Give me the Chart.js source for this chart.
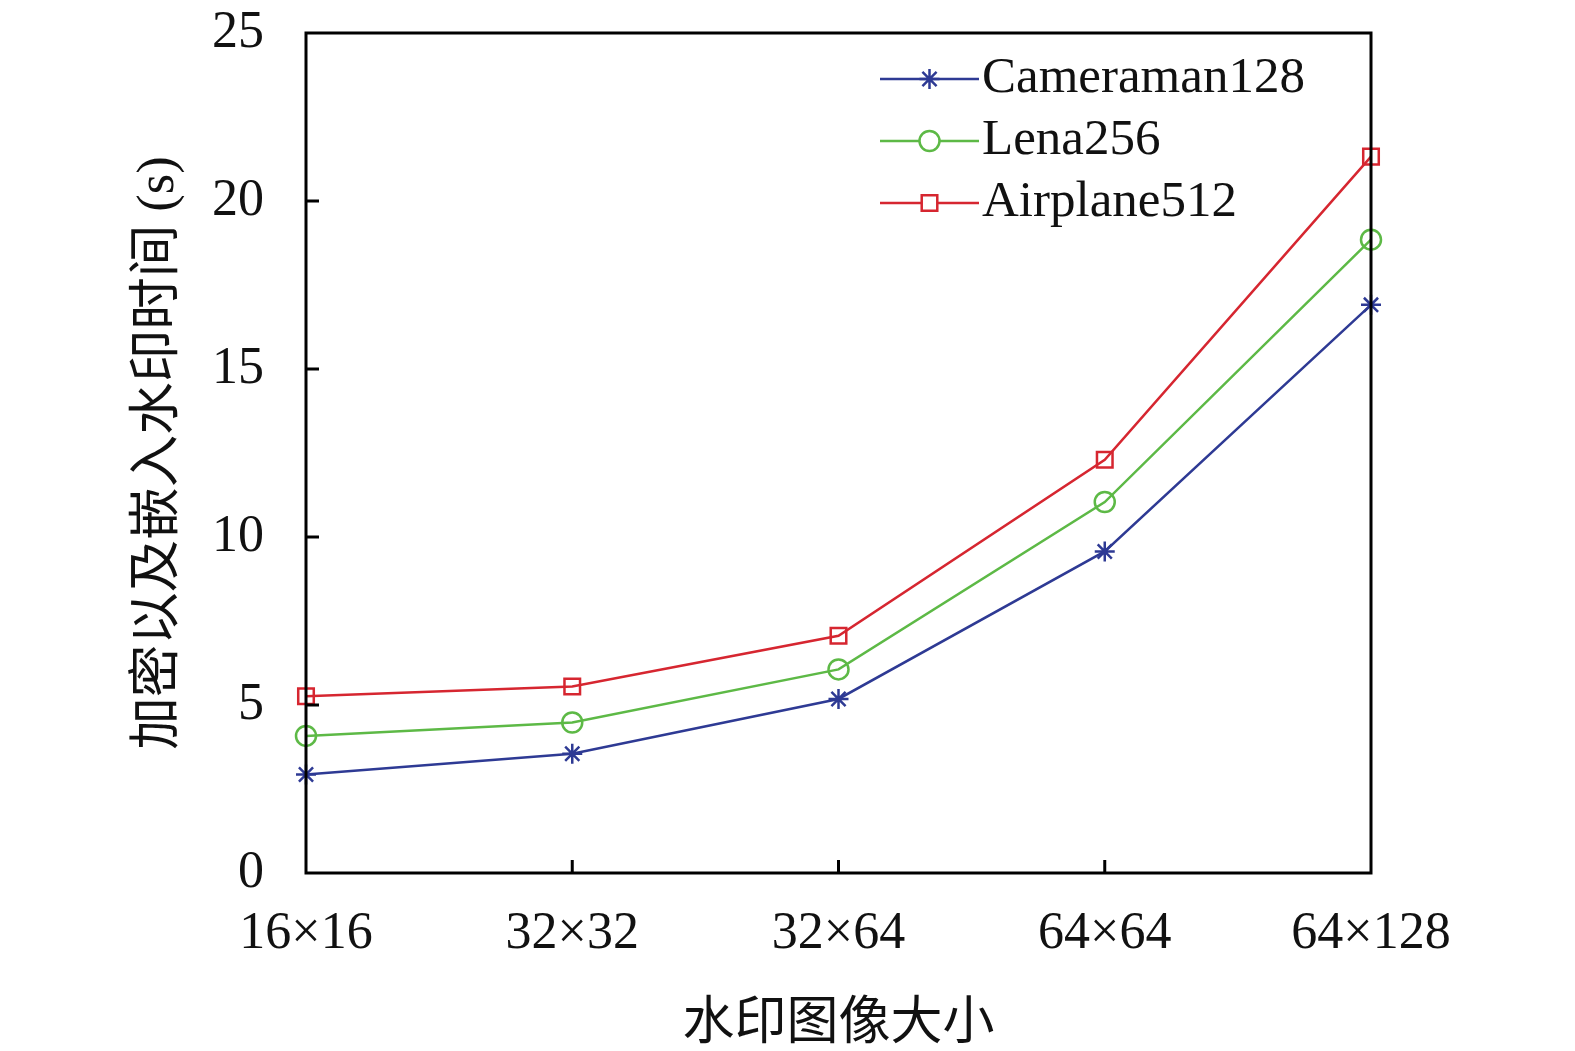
<!DOCTYPE html>
<html lang="zh">
<head>
    <meta charset="UTF-8">
    <title>水印图像大小 vs 时间</title>
    <script src="https://cdn.jsdelivr.net/npm/chart.js"></script>
    <style>
        body { margin: 0; background: #fff; }
        #wrap { width: 1575px; height: 1051px; }
    </style>
</head>
<body>
<div id="wrap"><canvas id="timeChart" width="1575" height="1051"></canvas></div>
<script>
    // values
    const categories = ['16×16', '32×32', '32×64', '64×64', '64×128'];
    const cameraman128 = [2.93, 3.55, 5.18, 9.57, 16.91];
    const lena256 = [4.08, 4.48, 6.06, 11.04, 18.85];
    const airplane512 = [5.26, 5.55, 7.06, 12.30, 21.32];
    const yTicks = [0, 5, 10, 15, 20, 25];

    const serif = '"Liberation Serif", "DejaVu Serif", serif';
    const titleFont = '"Liberation Serif", "Noto Sans CJK SC", serif';

    // box around plot + inward ticks
    const frame = {
        id: 'frame',
        afterDraw(chart) {
            const { ctx, chartArea: a, scales } = chart;
            ctx.save();
            ctx.strokeStyle = '#000';
            ctx.lineWidth = 3;
            ctx.strokeRect(a.left, a.top, a.right - a.left, a.bottom - a.top);
            ctx.beginPath();
            scales.x.ticks.forEach((t, i) => {
                if (i === 0 || i === scales.x.ticks.length - 1) return;
                const x = scales.x.getPixelForTick(i);
                ctx.moveTo(x, a.bottom);
                ctx.lineTo(x, a.bottom - 13);
            });
            scales.y.ticks.forEach((t) => {
                if (t.value === 0 || t.value === 25) return;
                const y = scales.y.getPixelForValue(t.value);
                ctx.moveTo(a.left, y);
                ctx.lineTo(a.left + 13, y);
            });
            ctx.stroke();
            ctx.restore();
        }
    };

    // legend drawn inside the plot, top right
    const innerLegend = {
        id: 'innerLegend',
        afterDraw(chart) {
            const { ctx, chartArea: a } = chart;
            const x0 = a.right - 491, x1 = a.right - 392, xm = (x0 + x1) / 2;
            ctx.save();
            chart.data.datasets.forEach((ds, i) => {
                const y = a.top + 46 + i * 62;
                ctx.strokeStyle = ds.borderColor;
                ctx.lineWidth = 2.5;
                ctx.beginPath();
                ctx.moveTo(x0, y);
                ctx.lineTo(x1, y);
                ctx.stroke();
                ctx.fillStyle = '#fff';
                Chart.helpers.drawPoint(ctx, {
                    pointStyle: ds.pointStyle, radius: ds.pointRadius,
                    rotation: 0, borderWidth: ds.pointBorderWidth
                }, xm, y);
                ctx.fillStyle = '#111';
                ctx.font = '51px ' + serif;
                ctx.textBaseline = 'middle';
                ctx.textAlign = 'left';
                ctx.fillText(ds.label, x1 + 3, y);
            });
            ctx.restore();
        }
    };

    function series(label, data, color, style, radius) {
        return {
            label: label,
            data: data,
            borderColor: color,
            backgroundColor: 'rgba(255,255,255,0)',
            borderWidth: 2.5,
            pointStyle: style,
            pointRadius: radius,
            pointBorderWidth: 2.5,
            pointBorderColor: color,
            pointBackgroundColor: 'rgba(255,255,255,0)',
            tension: 0,
            clip: false
        };
    }

    new Chart(document.getElementById('timeChart'), {
        type: 'line',
        data: {
            labels: categories,
            datasets: [
                series('Cameraman128', cameraman128, '#2E3A94', 'star', 10),
                series('Lena256', lena256, '#5DB946', 'circle', 10),
                series('Airplane512', airplane512, '#D62630', 'rect', 11)
            ]
        },
        options: {
            responsive: false,
            devicePixelRatio: 1,
            animation: false,
            layout: { padding: { left: 0, right: 204, top: 33, bottom: 0 } },
            plugins: { legend: { display: false }, tooltip: { enabled: false } },
            scales: {
                x: {
                    offset: false,
                    grid: { display: false, drawTicks: false },
                    border: { display: false },
                    ticks: { color: '#111', font: { family: serif, size: 52 }, padding: 30, maxRotation: 0, autoSkip: false },
                    title: { display: true, text: '水印图像大小', color: '#111', font: { family: titleFont, size: 52 }, padding: { top: 0, bottom: -6 } },
                    afterFit(scale) {
                        scale.height = 178;
                        scale.paddingLeft = 0;
                        scale.paddingRight = 0;
                    }
                },
                y: {
                    min: 0,
                    max: 25,
                    afterBuildTicks(scale) { scale.ticks = yTicks.map(v => ({ value: v })); },
                    grid: { display: false, drawTicks: false },
                    border: { display: false },
                    ticks: { color: '#111', font: { family: serif, size: 52 }, padding: 42 },
                    title: { display: true, text: '加密以及嵌入水印时间 (s)', color: '#111', font: { family: titleFont, size: 52.5 }, padding: { top: 128, bottom: 0 } },
                    afterFit(scale) {
                        scale.width = 306;
                        scale.paddingTop = 0;
                        scale.paddingBottom = 0;
                    }
                }
            }
        },
        plugins: [frame, innerLegend]
    });
</script>
</body>
</html>
